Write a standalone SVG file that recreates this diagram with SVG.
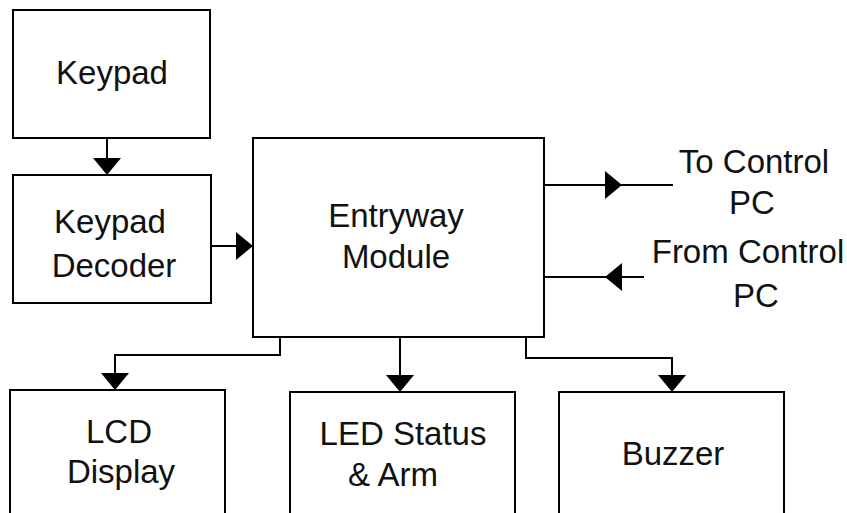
<svg xmlns="http://www.w3.org/2000/svg" width="847" height="513" viewBox="0 0 847 513">
<style>
.box{fill:#fff;stroke:#000;stroke-width:2}
.ln{fill:none;stroke:#000;stroke-width:2}
.arr{fill:none;stroke:#000;stroke-width:2;marker-end:url(#ah)}
text{font-family:"Liberation Sans",Arial,sans-serif;font-size:33px;fill:#111;text-anchor:middle}
</style>
<defs>
<marker id="ah" viewBox="0 0 17 28" refX="17" refY="14" markerWidth="17" markerHeight="28" markerUnits="userSpaceOnUse" orient="auto">
<path d="M0,0 L17,14 L0,28 Z" fill="#000"/>
</marker>
</defs>
<rect width="847" height="513" fill="#fff"/>
<g id="connectors">
<path class="arr" d="M107,138 V175"/>
<path class="arr" d="M211,246 H253"/>
<path class="arr" d="M544,185 H622"/>
<path class="ln" d="M620,185 H673"/>
<path class="arr" d="M644,277 H605"/>
<path class="ln" d="M607,277 H544"/>
<path class="arr" d="M280,337 V355 H115 V390"/>
<path class="arr" d="M400,337 V392"/>
<path class="arr" d="M526,337 V358 H672 V392"/>
</g>
<g id="keypad">
<rect class="box" x="13" y="10" width="197" height="128"/>
<text x="112" y="84">Keypad</text>
</g>
<g id="keypad-decoder">
<rect class="box" x="13" y="175" width="198" height="128"/>
<text x="110" y="233">Keypad</text>
<text x="114" y="277">Decoder</text>
</g>
<g id="entryway-module">
<rect class="box" x="253" y="138" width="291" height="199"/>
<text x="396" y="227">Entryway</text>
<text x="396" y="268">Module</text>
</g>
<g id="to-control-pc">
<text x="754" y="173">To Control</text>
<text x="752" y="214">PC</text>
</g>
<g id="from-control-pc">
<text x="748" y="263">From Control</text>
<text x="756" y="307">PC</text>
</g>
<g id="lcd-display">
<rect class="box" x="10" y="390" width="215" height="140"/>
<text x="119" y="443">LCD</text>
<text x="121" y="483">Display</text>
</g>
<g id="led-status">
<rect class="box" x="290" y="392" width="225" height="140"/>
<text x="403" y="445">LED Status</text>
<text x="393" y="486">&amp; Arm</text>
</g>
<g id="buzzer">
<rect class="box" x="559" y="392" width="225" height="140"/>
<text x="673" y="465">Buzzer</text>
</g>
</svg>
